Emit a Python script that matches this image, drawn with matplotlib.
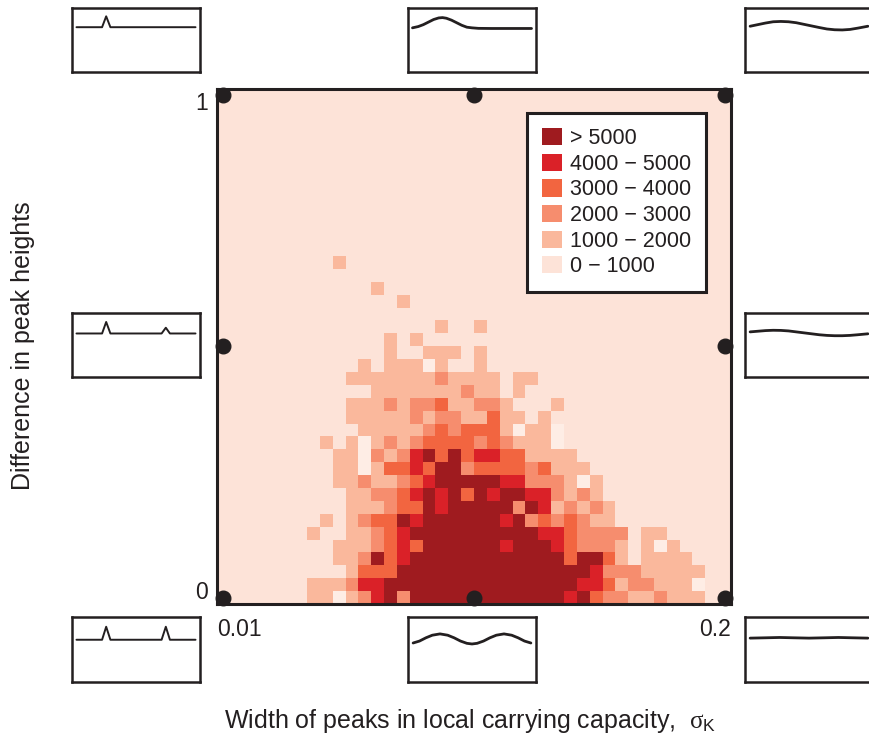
import numpy as np
import matplotlib
matplotlib.use("Agg")
import matplotlib.pyplot as plt
from matplotlib.colors import ListedColormap, BoundaryNorm
from matplotlib.patches import Patch
from matplotlib.transforms import ScaledTranslation

plt.rcParams['font.family'] = ['Liberation Sans', 'DejaVu Sans']
plt.rcParams['mathtext.fontset'] = 'custom'
plt.rcParams['mathtext.rm'] = 'Liberation Sans'
plt.rcParams['mathtext.it'] = 'Liberation Serif'

INK = '#231F20'

# Count class per grid cell (40 x 40), rows listed from bottom (row 0) upward.
# 0: 0-1000, 1: 1000-2000, 2: 2000-3000, 3: 3000-4000, 4: 4000-5000, 5: >5000,
# w: empty bin
count_class_rows = [
    "0000000" "11w1245255" "5555555555" "45322112111" "00",
    "0000000" "1112445555" "5555555555" "5443122111w" "00",
    "0000000" "0001333555" "5555555555" "55422211111" "00",
    "0000000" "0011253455" "5555555555" "35531011110" "00",
    "0000000" "0011123435" "5555545554" "3222101w100" "00",
    "0000000" "1001123455" "5555555544" "32222011000" "00",
    "0000000" "0101233545" "5555545232" "32110000000" "00",
    "0000000" "0001112335" "4555552541" "21210000000" "00",
    "0000000" "0001122345" "4535455442" "12100000000" "00",
    "0000000" "0011211234" "5555544222" "1w100000000" "00",
    "0000000" "0011w13343" "5523333231" "11000000000" "00",
    "0000000" "0011w21245" "3534433111" "10000000000" "00",
    "0000000" "0101w12123" "333232111w" "00000000000" "00",
    "0000000" "0000111112" "323331w11w" "00000000000" "00",
    "0000000" "0001111121" "2211311010" "00000000000" "00",
    "0000000" "0001112122" "3112210001" "00000000000" "00",
    "0000000" "0000011111" "1121101000" "00000000000" "00",
    "0000000" "0001111111" "2111101100" "00000000000" "00",
    "0000000" "000010111w" "1001000000" "00000000000" "00",
    "0000000" "0000001001" "1101000000" "00000000000" "00",
    "0000000" "0000001010" "0000000000" "00000000000" "00",
    "0000000" "0000000000" "1001000000" "00000000000" "00",
    "0000000" "0000000000" "0000000000" "00000000000" "00",
    "0000000" "0000000100" "0000000000" "00000000000" "00",
    "0000000" "0000010000" "0000000000" "00000000000" "00",
    "0000000" "0000000000" "0000000000" "00000000000" "00",
    "0000000" "0010000000" "0000000000" "00000000000" "00",
]
n_cells = 40

class_colors = ['#FEEDE5', '#FDE3D8', '#FAB89C', '#F68D6E', '#F26540', '#DA2128', '#9F1B1F']
legend_labels = ["> 5000", "4000 \u2212 5000", "3000 \u2212 4000",
                 "2000 \u2212 3000", "1000 \u2212 2000", "0 \u2212 1000"]

x_tick_labels = ["0.01", "0.2"]
y_tick_labels = ["0", "1"]

# Peak-shape sketches (x and height as fractions of each small panel)
tl_x = [0.035, 0.235, 0.267, 0.30, 0.965]
tl_y = [0.70, 0.70, 0.87, 0.70, 0.70]
tm_x = [0.035, 0.08, 0.12, 0.16, 0.20, 0.24, 0.27, 0.30, 0.34, 0.38, 0.42, 0.46, 0.50, 0.55, 0.65, 0.80, 0.965]
tm_y = [0.69, 0.71, 0.74, 0.78, 0.82, 0.845, 0.85, 0.84, 0.81, 0.77, 0.73, 0.70, 0.69, 0.682, 0.68, 0.68, 0.68]
tr_x = [0.04, 0.10, 0.16, 0.22, 0.28, 0.34, 0.40, 0.46, 0.52, 0.58, 0.64, 0.70, 0.76, 0.82, 0.88, 0.96]
tr_y = [0.715, 0.74, 0.765, 0.785, 0.79, 0.785, 0.77, 0.745, 0.72, 0.695, 0.672, 0.66, 0.657, 0.665, 0.685, 0.715]
ml_x = [0.035, 0.235, 0.267, 0.30, 0.70, 0.733, 0.765, 0.965]
ml_y = [0.68, 0.68, 0.86, 0.68, 0.68, 0.77, 0.68, 0.68]
mr_x = [0.04, 0.10, 0.16, 0.22, 0.28, 0.34, 0.40, 0.46, 0.52, 0.58, 0.64, 0.70, 0.76, 0.82, 0.88, 0.96]
mr_y = [0.705, 0.715, 0.725, 0.73, 0.728, 0.72, 0.705, 0.69, 0.675, 0.66, 0.65, 0.645, 0.645, 0.65, 0.66, 0.675]
bl_x = [0.035, 0.235, 0.267, 0.30, 0.70, 0.733, 0.765, 0.965]
bl_y = [0.65, 0.65, 0.85, 0.65, 0.65, 0.85, 0.65, 0.65]
bm_x = [0.04, 0.09, 0.14, 0.19, 0.25, 0.31, 0.36, 0.41, 0.46, 0.50, 0.54, 0.59, 0.64, 0.69, 0.75, 0.81, 0.86, 0.91, 0.96]
bm_y = [0.60, 0.63, 0.68, 0.72, 0.74, 0.72, 0.68, 0.63, 0.595, 0.585, 0.595, 0.63, 0.68, 0.72, 0.74, 0.72, 0.68, 0.63, 0.60]
br_x = [0.04, 0.16, 0.27, 0.38, 0.50, 0.62, 0.73, 0.84, 0.96]
br_y = [0.675, 0.68, 0.685, 0.68, 0.675, 0.68, 0.685, 0.68, 0.675]

# ---------------------------------------------------------------------------
W, H = 870, 740
fig = plt.figure(figsize=(W / 100, H / 100), dpi=100)


def px_axes(x0, ytop, w, h):
    return fig.add_axes([x0 / W, (H - ytop - h) / H, w / W, h / H])


ax = px_axes(217, 88.5, 514, 515.5)

grid = np.zeros((n_cells, n_cells))
for r, row in enumerate(count_class_rows):
    grid[r] = [-1 if ch == 'w' else int(ch) for ch in row]

cmap = ListedColormap(class_colors)
norm = BoundaryNorm(np.arange(-1.5, 6.5, 1.0), cmap.N)
edges = np.arange(n_cells + 1)
ax.pcolormesh(edges, edges, grid, cmap=cmap, norm=norm, shading='flat')
ax.set_xlim(0, n_cells)
ax.set_ylim(0, n_cells)

for s in ax.spines.values():
    s.set_linewidth(2.2)
    s.set_color(INK)
    s.set_zorder(5)

# corner / edge markers at cell centres
c0, cm, c1 = 0.5, n_cells / 2, n_cells - 0.5
dot_x = [c0, cm, c1, c0, c1, c0, cm, c1]
dot_y = [c1, c1, c1, cm, cm, c0, c0, c0]
ax.plot(dot_x, dot_y, 'o', color=INK, ms=10.5, clip_on=False, zorder=6)

ax.set_xticks([0, n_cells])
ax.set_xticklabels(x_tick_labels, fontsize=16.5, color=INK)
ax.set_yticks([0, n_cells])
ax.set_yticklabels(y_tick_labels, fontsize=16.5, color=INK)
ax.tick_params(axis='x', length=0, pad=10)
ax.tick_params(axis='y', length=0, pad=6.5)
xl = ax.get_xticklabels()
xl[0].set_ha('left')
xl[1].set_ha('right')
yl = ax.get_yticklabels()
yl[0].set_va('bottom')
yl[1].set_va('top')
yl[1].set_transform(yl[1].get_transform() + ScaledTranslation(0, -4 / 100, fig.dpi_scale_trans))

ax.set_xlabel("Width of peaks in local carrying capacity,  $\\sigma_{\\mathrm{K}}$",
              fontsize=18, color=INK)
ax.xaxis.set_label_coords(0.492, -0.2)
ax.set_ylabel("Difference in peak heights", fontsize=18, color=INK)
ax.yaxis.set_label_coords(-0.354, 0.502)

handles = [Patch(facecolor=class_colors[k + 1], edgecolor='none') for k in range(5, -1, -1)]
leg = ax.legend(handles, legend_labels, loc='upper left', bbox_to_anchor=(0.603, 0.952),
                fontsize=15.5, frameon=True, fancybox=False, framealpha=1,
                handlelength=0.93, handleheight=0.85, handletextpad=0.37,
                labelspacing=0.21, borderpad=0.7, borderaxespad=0)
leg.get_frame().set_edgecolor(INK)
leg.get_frame().set_linewidth(2.2)
for t in leg.get_texts():
    t.set_color(INK)
leg.set_zorder(7)

# small panels with carrying-capacity sketches
panels = [
    ((72, 8, 128, 64), tl_x, tl_y, 1.4),
    ((408, 8, 128, 64), tm_x, tm_y, 2.0),
    ((745, 8, 128, 64), tr_x, tr_y, 2.0),
    ((72, 313, 128, 64), ml_x, ml_y, 1.4),
    ((745, 313, 128, 64), mr_x, mr_y, 2.0),
    ((72, 617, 128, 65), bl_x, bl_y, 1.4),
    ((408, 617, 128, 65), bm_x, bm_y, 2.0),
    ((745, 617, 128, 65), br_x, br_y, 2.0),
]
for box, px, py, lw in panels:
    iax = px_axes(*box)
    iax.plot(px, py, color=INK, lw=lw, solid_joinstyle='round', solid_capstyle='round')
    iax.set_xlim(0, 1)
    iax.set_ylim(0, 1)
    iax.set_xticks([])
    iax.set_yticks([])
    for s in iax.spines.values():
        s.set_linewidth(1.8)
        s.set_color(INK)

fig.savefig("out.png", dpi=100)
